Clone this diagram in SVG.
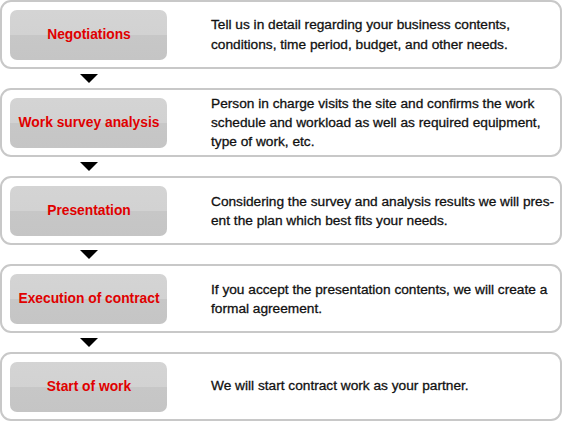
<svg xmlns="http://www.w3.org/2000/svg" width="563" height="422" viewBox="0 0 563 422">
<defs>
<linearGradient id="btn" x1="0" y1="0" x2="0" y2="1">
<stop offset="0" stop-color="#d4d4d4"/>
<stop offset="0.5" stop-color="#d2d2d2"/>
<stop offset="0.5" stop-color="#c7c7c7"/>
<stop offset="1" stop-color="#c5c5c5"/>
</linearGradient>
</defs>
<style>
.box{fill:#fff;stroke:#c8c8c8;stroke-width:2}
.btn{fill:url(#btn)}
.lbl{font-family:"Liberation Sans",Arial,sans-serif;font-weight:bold;font-size:13.8px;fill:#e00000;text-anchor:middle}
.desc{font-family:"Liberation Sans",Arial,sans-serif;font-size:13.7px;fill:#111;stroke:#111;stroke-width:0.3}
.arr{fill:#000}
</style>
<g id="connectors">
<polygon class="arr" points="80,74 98,74 89,83"/>
<polygon class="arr" points="80,162 98,162 89,171"/>
<polygon class="arr" points="80,250 98,250 89,259"/>
<polygon class="arr" points="80,338 98,338 89,347"/>
</g>
<g id="negotiations">
<rect class="box" x="1" y="1" width="560" height="67" rx="10"/>
<rect class="btn" x="10" y="10" width="157" height="50" rx="7"/>
<text class="lbl" x="89" y="39">Negotiations</text>
<text class="desc" x="211" y="29">Tell us in detail regarding your business contents,</text>
<text class="desc" x="211" y="49">conditions, time period, budget, and other needs.</text>
</g>
<g id="work-survey">
<rect class="box" x="1" y="89" width="560" height="67" rx="10"/>
<rect class="btn" x="10" y="98" width="157" height="50" rx="7"/>
<text class="lbl" x="89" y="127">Work survey analysis</text>
<text class="desc" x="211" y="108">Person in charge visits the site and confirms the work</text>
<text class="desc" x="211" y="127">schedule and workload as well as required equipment,</text>
<text class="desc" x="211" y="146">type of work, etc.</text>
</g>
<g id="presentation">
<rect class="box" x="1" y="177" width="560" height="67" rx="10"/>
<rect class="btn" x="10" y="186" width="157" height="50" rx="7"/>
<text class="lbl" x="89" y="215">Presentation</text>
<text class="desc" x="211" y="206">Considering the survey and analysis results we will pres-</text>
<text class="desc" x="211" y="225">ent the plan which best fits your needs.</text>
</g>
<g id="execution">
<rect class="box" x="1" y="265" width="560" height="67" rx="10"/>
<rect class="btn" x="10" y="274" width="157" height="50" rx="7"/>
<text class="lbl" x="89" y="303">Execution of contract</text>
<text class="desc" x="211" y="294">If you accept the presentation contents, we will create a</text>
<text class="desc" x="211" y="313">formal agreement.</text>
</g>
<g id="start">
<rect class="box" x="1" y="353" width="560" height="67" rx="10"/>
<rect class="btn" x="10" y="362" width="157" height="50" rx="7"/>
<text class="lbl" x="89" y="391">Start of work</text>
<text class="desc" x="211" y="390">We will start contract work as your partner.</text>
</g>
</svg>
